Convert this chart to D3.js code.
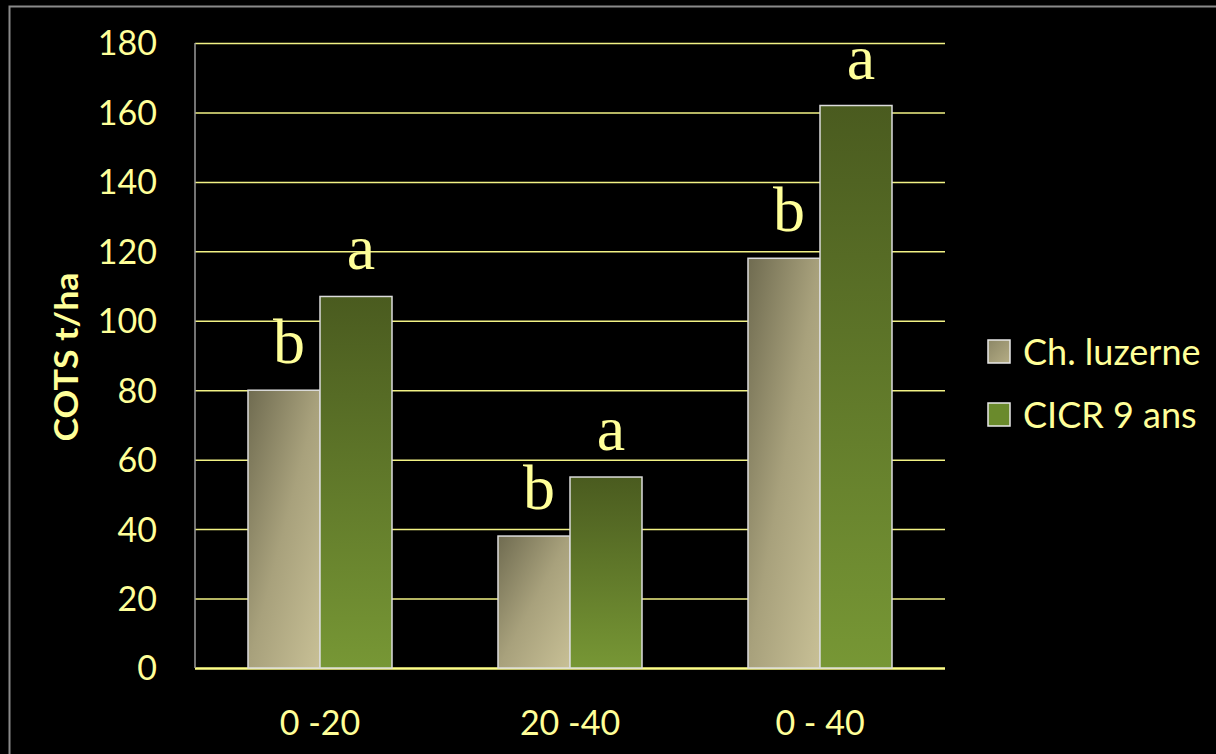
<!DOCTYPE html>
<html><head><meta charset="utf-8">
<script src="https://cdn.jsdelivr.net/npm/d3@7"></script>
<style>html,body{margin:0;padding:0;background:#000;}svg{display:block;}</style>
</head><body>
<svg id="c" width="1216" height="754"></svg>
<script>
const categories = ["0 -20", "20 -40", "0 - 40"];
const seriesNames = ["Ch. luzerne", "CICR 9 ans"];
const luzerne = [80, 38, 118];
const cicr = [107, 55, 162];
const luzerneLetters = ["b", "b", "b"];
const cicrLetters = ["a", "a", "a"];
const yTicks = [0, 20, 40, 60, 80, 100, 120, 140, 160, 180];

const svg = d3.select("#c");
const txt = "#ffff99";
const grid = "#f2f285";
const plotL = 195, plotR = 945, plotT = 43, plotB = 668;

svg.append("rect").attr("width",1216).attr("height",754).attr("fill","#000");
// outer frame
svg.append("path").attr("d","M9.5,760 V6.5 H1220").attr("fill","none").attr("stroke","#8a8a8a").attr("stroke-width",2);

const defs = svg.append("defs");
const g1 = defs.append("linearGradient").attr("id","gLuz").attr("x1","0").attr("y1","0").attr("x2","1").attr("y2","1");
g1.append("stop").attr("offset","0").attr("stop-color","#6f6b50");
g1.append("stop").attr("offset","0.5").attr("stop-color","#a8a17c");
g1.append("stop").attr("offset","1").attr("stop-color","#c8c096");
const g2 = defs.append("linearGradient").attr("id","gCic").attr("x1","0").attr("y1","0").attr("x2","0").attr("y2","1");
g2.append("stop").attr("offset","0").attr("stop-color","#4a5b1f");
g2.append("stop").attr("offset","1").attr("stop-color","#779735");
const gl1 = defs.append("linearGradient").attr("id","gLuzL").attr("x1","0").attr("y1","0").attr("x2","1").attr("y2","1");
gl1.append("stop").attr("offset","0").attr("stop-color","#8c8766");
gl1.append("stop").attr("offset","1").attr("stop-color","#b5ad85");

const y = d3.scaleLinear().domain([0,180]).range([plotB, plotT]);
const x = d3.scaleBand().domain(categories).range([plotL, plotR]).paddingInner(0.424).paddingOuter(0.212);
const xs = d3.scaleBand().domain(seriesNames).range([0, x.bandwidth()]);

// gridlines
const yAxis = d3.axisLeft(y).tickValues(yTicks).tickSize(-(plotR-plotL)).tickFormat(d=>d).tickPadding(38);
const ga = svg.append("g").attr("transform",`translate(${plotL},0)`).call(yAxis);
ga.select(".domain").remove();
ga.selectAll(".tick line").attr("stroke",grid).attr("stroke-width",1.5);
ga.selectAll(".tick").filter(d=>d===0).select("line").attr("stroke","#ffff88").attr("stroke-width",2.5);
ga.selectAll(".tick text").attr("fill",txt).attr("font-family","Lato, 'Open Sans', sans-serif").attr("font-size",34).attr("dy","0.35em");
// y axis line
svg.append("line").attr("x1",plotL).attr("x2",plotL).attr("y1",plotT).attr("y2",plotB).attr("stroke","#9a9a9a").attr("stroke-width",1.5);

const series = [
  {name: seriesNames[0], vals: luzerne, fill: "url(#gLuz)", letters: luzerneLetters},
  {name: seriesNames[1], vals: cicr, fill: "url(#gCic)", letters: cicrLetters}
];

series.forEach(s => {
  svg.append("g").selectAll("rect").data(categories).join("rect")
    .attr("x", (c)=> x(c) + xs(s.name))
    .attr("width", xs.bandwidth())
    .attr("y", (c,i)=> y(s.vals[i]))
    .attr("height", (c,i)=> y(0) - y(s.vals[i]))
    .attr("fill", s.fill)
    .attr("stroke", "#dcdcdc").attr("stroke-width", 1.5);
  svg.append("g").selectAll("text").data(categories).join("text")
    .attr("x", (c)=> x(c) + xs(s.name) + xs.bandwidth()/2 + 5)
    .attr("y", (c,i)=> y(s.vals[i]) - 27)
    .attr("text-anchor","middle")
    .attr("fill", txt)
    .attr("font-family","'Liberation Serif', 'DejaVu Serif', serif")
    .attr("font-size", 64)
    .text((c,i)=> s.letters[i]);
});

// x axis labels
const xAxis = d3.axisBottom(x).tickSize(0).tickPadding(0);
const gx = svg.append("g").attr("transform",`translate(0,${plotB})`).call(xAxis);
gx.select(".domain").remove();
gx.selectAll(".tick text").attr("fill",txt).attr("font-family","Lato, 'Open Sans', sans-serif").attr("font-size",34).attr("dy",null).attr("y",67);

// y axis title
svg.append("text").attr("transform","translate(78,357) rotate(-90)").attr("text-anchor","middle")
  .attr("fill",txt).attr("font-family","Lato, 'Open Sans', sans-serif").attr("font-weight","bold").attr("font-size",32)
  .attr("textLength",169).attr("lengthAdjust","spacingAndGlyphs").text("COTS t/ha");

// legend
const legendFills = ["url(#gLuzL)", "#6a8a2c"];
const lg = svg.append("g");
seriesNames.forEach((n,i)=>{
  const yy = 340 + i*63;
  lg.append("rect").attr("x",988).attr("y",yy).attr("width",22).attr("height",23).attr("fill",legendFills[i]).attr("stroke","#e8e8e8").attr("stroke-width",1.5);
  lg.append("text").attr("x",1023).attr("y",yy+25).attr("fill",txt).attr("font-family","Lato, 'Open Sans', sans-serif").attr("font-size",36).text(n);
});
</script>
</body></html>
